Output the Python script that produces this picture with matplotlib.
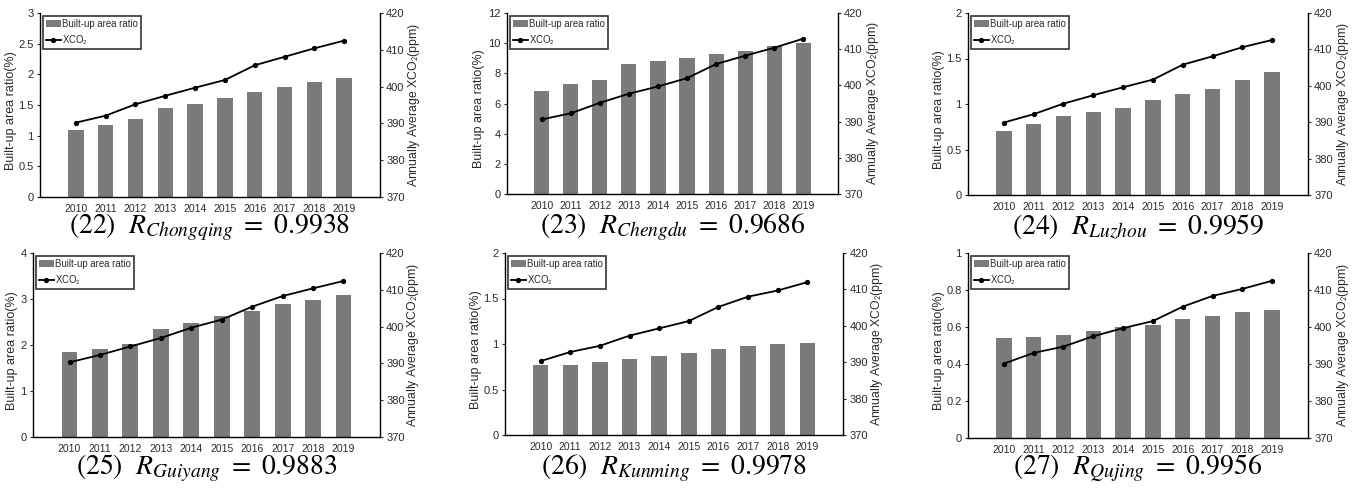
import matplotlib
matplotlib.use("Agg")
import matplotlib.pyplot as plt
from matplotlib.lines import Line2D
from matplotlib.patches import Patch
from matplotlib.ticker import FuncFormatter
import numpy as np

plt.rcParams['font.family'] = ['Liberation Sans', 'DejaVu Sans']

years = ['2010', '2011', '2012', '2013', '2014', '2015', '2016', '2017', '2018', '2019']
panel_numbers = ['22', '23', '24', '25', '26', '27']
cities = ['Chongqing', 'Chengdu', 'Luzhou', 'Guiyang', 'Kunming', 'Qujing']
r_values = ['0.9938', '0.9686', '0.9959', '0.9883', '0.9978', '0.9956']

built_chongqing = [1.09, 1.17, 1.27, 1.45, 1.51, 1.61, 1.71, 1.80, 1.87, 1.94]
built_chengdu = [6.85, 7.27, 7.56, 8.6, 8.82, 9.04, 9.27, 9.51, 9.82, 10.04]
built_luzhou = [0.705, 0.785, 0.866, 0.914, 0.954, 1.04, 1.108, 1.167, 1.259, 1.347]
built_guiyang = [1.84, 1.91, 2.02, 2.35, 2.48, 2.62, 2.75, 2.89, 2.98, 3.09]
built_kunming = [0.766, 0.773, 0.80, 0.84, 0.868, 0.897, 0.949, 0.978, 1.004, 1.015]
built_qujing = [0.539, 0.544, 0.559, 0.577, 0.598, 0.613, 0.641, 0.661, 0.679, 0.69]

xco2_chongqing = [390.2, 392.1, 395.2, 397.5, 399.7, 401.8, 405.8, 408.1, 410.4, 412.5]
xco2_chengdu = [390.6, 392.3, 395.2, 397.7, 399.7, 402.0, 405.9, 408.2, 410.4, 412.9]
xco2_luzhou = [389.9, 392.2, 395.1, 397.4, 399.6, 401.7, 405.8, 408.1, 410.6, 412.6]
xco2_guiyang = [390.3, 392.3, 394.6, 396.9, 399.7, 401.9, 405.4, 408.3, 410.4, 412.4]
xco2_kunming = [390.3, 392.8, 394.5, 397.3, 399.3, 401.3, 405.2, 408.0, 409.7, 412.0]
xco2_qujing = [390.1, 393.0, 394.7, 397.5, 399.7, 401.6, 405.5, 408.4, 410.3, 412.5]

left_max = [3, 12, 2, 4, 2, 1]
left_step = [0.5, 2, 0.5, 1, 0.5, 0.2]
right_ticks = [370, 380, 390, 400, 410, 420]

built = [built_chongqing, built_chengdu, built_luzhou, built_guiyang, built_kunming, built_qujing]
xco2 = [xco2_chongqing, xco2_chengdu, xco2_luzhou, xco2_guiyang, xco2_kunming, xco2_qujing]

W, H = 1362, 492
fig = plt.figure(figsize=(W / 100, H / 100), dpi=100)

# axes boxes in pixels (x0, x1, y0_top, y1_bottom)
boxes = [(40, 380, 13, 197), (507, 838, 13, 194), (968, 1308, 13, 195),
         (33, 380, 253, 437), (505, 843, 253, 435), (968, 1308, 253, 438)]
left_label_off = [29, 28, 29, 21, 29, 29]
right_label_off = [34, 35, 35, 33, 34, 35]
caption_y = [227, 227, 227, 468, 468, 468]

bar_color = '#7a7a7a'
tick_color = '#2a2a2a'


def fmt(v, pos):
    return '%g' % round(v, 3)


for i in range(6):
    x0, x1, y0, y1 = boxes[i]
    aw = x1 - x0
    ax = fig.add_axes([x0 / W, 1 - y1 / H, aw / W, (y1 - y0) / H])
    xs = np.arange(len(years))
    ax.bar(xs, built[i], width=0.52, color=bar_color, zorder=1)
    ax.set_xlim(-1.2, len(years) - 1 + 1.2)
    ax.set_ylim(0, left_max[i])
    ax.set_yticks(np.arange(0, left_max[i] + left_step[i] / 2, left_step[i]))
    ax.yaxis.set_major_formatter(FuncFormatter(fmt))
    ax.set_xticks(xs)
    ax.set_xticklabels(years)
    ax.tick_params(axis='x', length=0, labelsize=7.5, colors=tick_color, pad=5)
    ax.tick_params(axis='y', length=2.5, width=0.8, direction='out', labelsize=8,
                   colors=tick_color, pad=2)
    ax.spines['top'].set_visible(False)
    ax.spines['right'].set_visible(False)
    for s in ['left', 'bottom']:
        ax.spines[s].set_linewidth(1.0)
        ax.spines[s].set_color('black')
    ax.set_ylabel('Built-up area ratio(%)', fontsize=9, color=tick_color, va='center')
    ax.yaxis.set_label_coords(-left_label_off[i] / aw, 0.47)

    ax2 = ax.twinx()
    ax2.plot(xs, xco2[i], color='black', lw=1.3, marker='o', ms=2.8, zorder=3)
    ax2.set_ylim(370, 420)
    ax2.set_yticks(right_ticks)
    ax2.tick_params(axis='y', length=2.5, width=0.8, direction='out', labelsize=8,
                    colors=tick_color, pad=2)
    ax2.spines['top'].set_visible(False)
    ax2.spines['left'].set_visible(False)
    ax2.spines['bottom'].set_visible(False)
    ax2.spines['right'].set_linewidth(1.0)
    ax2.spines['right'].set_color('black')
    ax2.set_ylabel('Annually Average XCO$_2$(ppm)', fontsize=8.8, color=tick_color,
                   math_fontfamily='stixsans', va='center')
    ax2.yaxis.set_label_coords(1 + right_label_off[i] / aw, 0.5)

    handles = [Patch(facecolor=bar_color, edgecolor='none'),
               Line2D([], [], color='black', lw=1.3, marker='o', ms=2.8)]
    leg = ax2.legend(handles, ['Built-up area ratio', 'XCO$_2$'], loc='upper left',
                     bbox_to_anchor=(0.0, 1.0), borderaxespad=0.3, fontsize=6.9,
                     frameon=True, fancybox=False, handlelength=1.6, handletextpad=0.1,
                     borderpad=0.3, labelspacing=0.45)
    leg.get_frame().set_edgecolor('black')
    leg.get_frame().set_linewidth(1.2)
    for t in leg.get_texts():
        t.set_color(tick_color)
        t.set_math_fontfamily('stixsans')

    cx = (x0 + x1) / 2 / W
    fig.text(cx, 1 - caption_y[i] / H,
             r'$\mathrm{(' + panel_numbers[i] + r')}\ \ R_{' + cities[i] + r'}\ =\ ' + r_values[i] + '$',
             ha='center', va='center', fontsize=20, math_fontfamily='stix')

fig.savefig('out.png', dpi=100)
